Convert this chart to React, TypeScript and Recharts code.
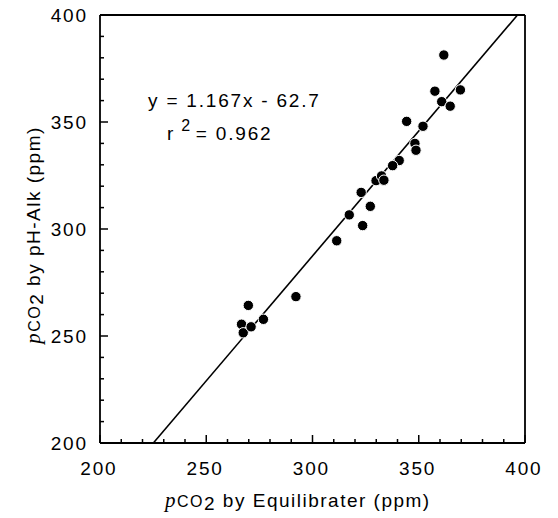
import React from "react";
import {
  ScatterChart,
  Scatter,
  XAxis,
  YAxis,
  ReferenceLine,
  ReferenceDot,
} from "recharts";

// pCO2 by Equilibrater (ppm)
const equilibrater = [
  266.6, 329.9, 332.5, 348.2,
  361.8, 357.6, 369.6, 360.8, 364.8, 344.3, 352.0, 348.7, 340.8, 337.7,
  333.6, 322.9, 327.2, 317.3, 323.6, 311.4, 292.2, 269.8, 267.4, 271.1, 276.9,
];
// pCO2 by pH-Alk (ppm)
const phAlk = [
  255.5, 322.6, 324.8, 340.0,
  381.3, 364.4, 365.0, 359.5, 357.4, 350.3, 348.0, 336.8, 332.0, 329.6,
  322.8, 317.1, 310.6, 306.6, 301.6, 294.5, 268.4, 264.3, 251.5, 254.3, 257.8,
];

const slope = 1.167;
const intercept = -62.7;
const eqText = "y = 1.167x - 62.7";
const r2Text = "0.962";

const axisMin = 200;
const axisMax = 400;
const majorStep = 50;
const minorStep = 10;
const tickValues: number[] = [];
for (let v = axisMin; v <= axisMax; v += minorStep) tickValues.push(v);

const data = equilibrater.map((x, i) => ({ x, y: phAlk[i] }));

const lineStart = { x: (axisMin - intercept) / slope, y: axisMin };
const lineEnd = { x: (axisMax - intercept) / slope, y: axisMax };

const SANS = "'Liberation Sans', Arial, Helvetica, sans-serif";
const SERIF = "'Liberation Serif', 'Times New Roman', serif";
const FS = 19;
const LS = 1.8;

const isMajor = (v: number) => Math.abs(v % majorStep) < 1e-6;

const XTick = (props: any) => {
  const { x, y, payload } = props;
  const v = payload.value;
  const major = isMajor(v);
  return (
    <g>
      <line x1={x} y1={y} x2={x} y2={y - (major ? 8 : 4)} stroke="#000" strokeWidth={1.5} />
      {major && (
        <text x={x + LS / 2 - 2} y={y + 32} textAnchor="middle" fontFamily={SANS} fontSize={FS} style={{ letterSpacing: `${LS}px` }} fill="#000">
          {v}
        </text>
      )}
    </g>
  );
};

const YTick = (props: any) => {
  const { x, y, payload } = props;
  const v = payload.value;
  const major = isMajor(v);
  return (
    <g>
      <line x1={x} y1={y} x2={x + (major ? 8 : 4)} y2={y} stroke="#000" strokeWidth={1.5} />
      {major && (
        <text x={x - 14 + LS} y={y + 7} textAnchor="end" fontFamily={SANS} fontSize={FS} style={{ letterSpacing: `${LS}px` }} fill="#000">
          {v}
        </text>
      )}
    </g>
  );
};

const Dot = (props: any) => {
  const { cx, cy } = props;
  if (cx == null || cy == null) return null;
  return <circle cx={cx} cy={cy} r={5.2} fill="#000" stroke="#fff" strokeWidth={1} />;
};

const XLabel = (props: any) => {
  const vb = props.viewBox || {};
  const x0 = vb.x + 65;
  const y0 = vb.y + 64;
  return (
    <text x={x0} y={y0} fontFamily={SANS} fontSize={FS} style={{ letterSpacing: "1.5px" }} fill="#000">
      <tspan fontFamily={SERIF} fontStyle="italic" fontSize={21}>p</tspan>
      <tspan fontSize={16}>CO</tspan>
      <tspan fontSize={19} dy={3}>2</tspan>
      <tspan dy={-3}> by Equilibrater (ppm)</tspan>
    </text>
  );
};

const YLabel = (props: any) => {
  const vb = props.viewBox || {};
  const cx = vb.x + vb.width - 60;
  const cy = vb.y + vb.height / 2 + 6;
  return (
    <text
      x={cx}
      y={cy}
      transform={`rotate(-90, ${cx}, ${cy})`}
      textAnchor="middle"
      fontFamily={SANS}
      fontSize={FS}
      style={{ letterSpacing: "1.5px" }}
      fill="#000"
    >
      <tspan fontFamily={SERIF} fontStyle="italic" fontSize={21}>p</tspan>
      <tspan fontSize={16}>CO</tspan>
      <tspan fontSize={19} dy={3}>2</tspan>
      <tspan dy={-3}> by pH-Alk (ppm)</tspan>
    </text>
  );
};

const Annotation = (props: any) => {
  const vb = props.viewBox || {};
  const x0 = vb.x;
  const y0 = vb.y;
  return (
    <g fontFamily={SANS} fontSize={FS} fill="#000">
      <text x={x0} y={y0} style={{ letterSpacing: `${LS}px` }}>{eqText}</text>
      <text x={x0 + 19} y={y0 + 33} style={{ letterSpacing: `${LS}px` }}>
        r<tspan fontSize={16} dx={6} dy={-9}>2</tspan>
        <tspan dx={4} dy={9}>= {r2Text}</tspan>
      </text>
    </g>
  );
};

export default function App() {
  return (
    <div style={{ margin: "-8px 0 0 -8px", width: 558, height: 518 }}>
      <ScatterChart
        width={558}
        height={518}
        margin={{ top: 14, right: 32, bottom: 74, left: 99 }}
      >
        <XAxis
          type="number"
          dataKey="x"
          domain={[axisMin, axisMax]}
          ticks={tickValues}
          interval={0}
          height={1}
          tickSize={0}
          tickMargin={0}
          tickLine={false}
          tick={<XTick />}
          axisLine={{ stroke: "#000", strokeWidth: 1.8 }}
          allowDataOverflow
          label={<XLabel />}
        />
        <YAxis
          type="number"
          dataKey="y"
          domain={[axisMin, axisMax]}
          ticks={tickValues}
          interval={0}
          width={1}
          tickSize={0}
          tickMargin={0}
          tickLine={false}
          tick={<YTick />}
          axisLine={{ stroke: "#000", strokeWidth: 1.8 }}
          allowDataOverflow
          label={<YLabel />}
        />
        <XAxis
          xAxisId="top"
          orientation="top"
          type="number"
          domain={[axisMin, axisMax]}
          height={1}
          tick={false}
          tickLine={false}
          axisLine={{ stroke: "#000", strokeWidth: 1.8 }}
        />
        <YAxis
          yAxisId="right"
          orientation="right"
          type="number"
          domain={[axisMin, axisMax]}
          width={1}
          tick={false}
          tickLine={false}
          axisLine={{ stroke: "#000", strokeWidth: 1.8 }}
        />
        <ReferenceLine
          segment={[lineStart, lineEnd]}
          stroke="#000"
          strokeWidth={1.6}
          ifOverflow="visible"
        />
        <Scatter data={data} fill="#000" shape={<Dot />} isAnimationActive={false} />
        <ReferenceDot
          x={222.6}
          y={357.2}
          r={0}
          fill="none"
          stroke="none"
          label={<Annotation />}
        />
      </ScatterChart>
    </div>
  );
}
